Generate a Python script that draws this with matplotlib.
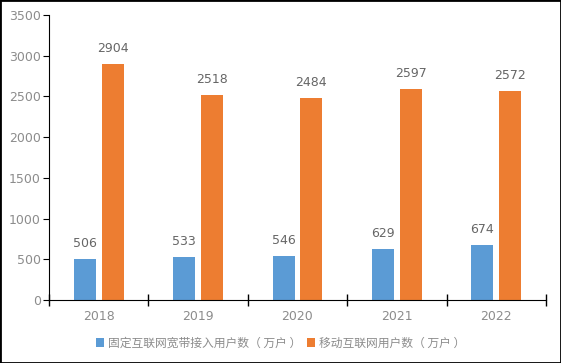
import matplotlib
matplotlib.use("Agg")
from matplotlib import pyplot as plt
from matplotlib.patches import Rectangle
import numpy as np

plt.rcParams['font.family'] = ['DejaVu Sans', 'Noto Sans CJK SC']

years = ['2018', '2019', '2020', '2021', '2022']
fixed = [506, 533, 546, 629, 674]
mobile = [2904, 2518, 2484, 2597, 2572]
fixed_name = '固定互联网宽带接入用户数（ 万户 ）'
mobile_name = '移动互联网用户数（ 万户 ）'

blue = '#5B9BD5'
orange = '#ED7D31'
grey = '#8C8C8C'

fig = plt.figure(figsize=(5.61, 3.63), dpi=100)
fig.patches.append(Rectangle((0, 0), 1, 1, transform=fig.transFigure,
                             fill=False, edgecolor='black', linewidth=2))
ax = fig.add_axes([49/561, 63/363, 497/561, 285/363])

x = np.arange(len(years))
w = 0.22
b1 = ax.bar(x - 0.14, fixed, w, color=blue, label=fixed_name)
b2 = ax.bar(x + 0.14, mobile, w, color=orange, label=mobile_name)
for bars in (b1, b2):
    for r in bars:
        ax.text(r.get_x() + r.get_width()/2, r.get_height() + 110,
                str(int(r.get_height())), ha='center', va='bottom',
                fontsize=9, color='#666666')

ax.set_xlim(-0.5, 4.5)
ax.set_ylim(0, 3500)
ax.set_yticks(range(0, 3501, 500))
ax.set_xticks(x)
ax.set_xticklabels(years)
ax.set_xticks(np.arange(-0.5, 5, 1), minor=True)
ax.tick_params(axis='x', which='major', length=0, pad=7, labelsize=9, labelcolor=grey)
ax.tick_params(axis='x', which='minor', length=8, direction='inout', width=1)
ax.tick_params(axis='y', length=4, labelsize=9, labelcolor=grey, pad=2)
for s in ['top', 'right']:
    ax.spines[s].set_visible(False)

leg = fig.legend(handles=[b1, b2], loc='center', bbox_to_anchor=(0.5, 20/363),
                 ncol=2, frameon=False, handlelength=0.7,
                 handleheight=0.7, handletextpad=0.3, columnspacing=0.5,
                 prop={'family': ['Noto Sans CJK SC'], 'size': 8.5})
for t in leg.get_texts():
    t.set_color(grey)

fig.savefig('out.png', dpi=100)
